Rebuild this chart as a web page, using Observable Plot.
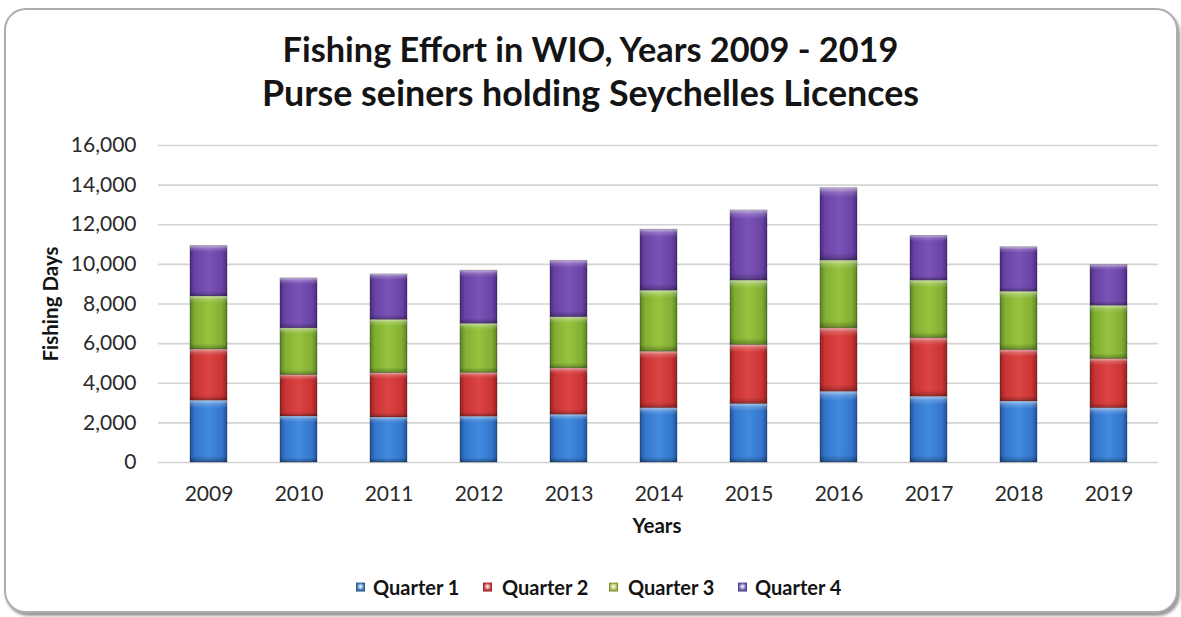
<!DOCTYPE html>
<html>
<head>
<meta charset="utf-8">
<script src="https://cdn.jsdelivr.net/npm/d3@7"></script>
<script src="https://cdn.jsdelivr.net/npm/@observablehq/plot@0.6"></script>
<style>
  body { margin: 0; background: #fff; font-family: Lato, "Open Sans", sans-serif; }
  #wrap { position: relative; width: 1181px; height: 617px; overflow: hidden; background: #fff; }
  #frame { position: absolute; left: 4px; top: 8px; width: 1170px; height: 601px;
           border: 2px solid #adadad; border-radius: 22px; background: #fff;
           box-shadow: 2px 3px 3px rgba(0,0,0,0.4); }
  .title { position: absolute; left: 0; width: 1181px; text-align: center; font-weight: 700;
           line-height: 1; color: #141414; white-space: nowrap; }
  #chart { position: absolute; left: 0; top: 130px; }
  .axtitle { position: absolute; font-weight: 700; font-size: 20.5px; color: #141414; white-space: nowrap; line-height: 1; }
  .leg { position: absolute; top: 587px; transform: translateY(-50%); font-weight: 700; font-size: 20px; color: #141414; white-space: nowrap; line-height: 1; }
  .sw { position: absolute; top: 587px; width: 9px; height: 9px; transform: translateY(-50%);
        box-shadow: inset 0 0 0 1px rgba(0,0,0,0.25); }
</style>
</head>
<body>
<div id="wrap">
  <div id="frame"></div>
  <div class="title" style="top:32px; font-size:34.3px">Fishing Effort in WIO, Years 2009 - 2019</div>
  <div class="title" style="top:75px; font-size:35.8px">Purse seiners holding Seychelles Licences</div>
  <div id="chart"></div>
  <div class="axtitle" style="left:50px; top:304px; transform: translate(-50%,-50%) rotate(-90deg);">Fishing Days</div>
  <div class="axtitle" style="left:657px; top:525px; transform: translate(-50%,-50%);">Years</div>
  <div id="legend"></div>
</div>
<script>
// ---- data ----
const years = ["2009","2010","2011","2012","2013","2014","2015","2016","2017","2018","2019"];
const quarters = ["Quarter 1","Quarter 2","Quarter 3","Quarter 4"];
const q1 = [3120, 2320, 2270, 2310, 2410, 2740, 2950, 3570, 3320, 3080, 2740];
const q2 = [2580, 2090, 2240, 2210, 2340, 2850, 2980, 3200, 2950, 2590, 2480];
const q3 = [2680, 2360, 2690, 2480, 2580, 3080, 3250, 3420, 2910, 2950, 2690];
const q4 = [2540, 2520, 2290, 2680, 2850, 3080, 3540, 3650, 2260, 2240, 2050];
const yTicks = [0, 2000, 4000, 6000, 8000, 10000, 12000, 14000, 16000];

const series = [q1, q2, q3, q4];
const rows = [];
years.forEach((yr, i) => quarters.forEach((q, j) => rows.push({year: yr, quarter: q, value: series[j][i]})));

// gradient styling
const grads = [
  {id: "gQ1", stops: ["#21539c", "#3477cc", "#418ade", "#3477cc", "#21539c"], legend: "#3d74ba"},
  {id: "gQ2", stops: ["#9a2222", "#c93434", "#dc4444", "#c93434", "#9a2222"], legend: "#c53a3e"},
  {id: "gQ3", stops: ["#5a8520", "#82ae33", "#96c43e", "#82ae33", "#5a8520"], legend: "#a7b843"},
  {id: "gQ4", stops: ["#4c2c82", "#6a44a5", "#7b53b7", "#6a44a5", "#4c2c82"], legend: "#6a5ab0"}
];

const chart = Plot.plot({
  width: 1181,
  height: 412,
  marginLeft: 158,
  marginRight: 23,
  marginTop: 15,
  marginBottom: 80,
  style: {fontFamily: "Lato, 'Open Sans', sans-serif", fontSize: "21px", color: "#2a2a2a", background: "transparent", overflow: "visible"},
  x: {domain: years, paddingInner: 0.59, paddingOuter: 0.295, label: null, tickSize: 0, tickPadding: 24},
  y: {domain: [0, 16000], ticks: yTicks, tickFormat: d3.format(","), label: null, tickSize: 0, tickPadding: 22},
  color: {domain: quarters, range: grads.map(g => `url(#${g.id})`)},
  marks: [
    Plot.ruleY(yTicks, {stroke: "#d3d3d3", strokeWidth: 1.6}),
    Plot.barY(rows, Plot.stackY({x: "year", y: "value", fill: "quarter", stroke: "rgba(0,0,0,0.35)", strokeWidth: 0.8})),
    Plot.barY(rows, Plot.stackY({x: "year", y: "value", z: "quarter", fill: "url(#bevel)"}))
  ]
});

const defs = d3.select(chart).insert("defs", ":first-child");
grads.forEach(g => {
  const lg = defs.append("linearGradient").attr("id", g.id).attr("x1", 0).attr("x2", 1).attr("y1", 0).attr("y2", 0);
  [0, 0.14, 0.5, 0.86, 1].forEach((o, k) => lg.append("stop").attr("offset", o).attr("stop-color", g.stops[k]));
});
const bv = defs.append("linearGradient").attr("id", "bevel").attr("x1", 0).attr("x2", 0).attr("y1", 0).attr("y2", 1);
[[0, "#fff", 0.55], [0.06, "#fff", 0.18], [0.13, "#fff", 0], [0.9, "#000", 0], [1, "#000", 0.3]]
  .forEach(([o, c, a]) => bv.append("stop").attr("offset", o).attr("stop-color", c).attr("stop-opacity", a));

document.getElementById("chart").appendChild(chart);

// legend
const legPos = [[356, 373], [483, 502], [609, 628], [738, 755]];
const leg = document.getElementById("legend");
quarters.forEach((q, i) => {
  const sw = document.createElement("div");
  sw.className = "sw";
  sw.style.left = legPos[i][0] + "px";
  sw.style.background = `radial-gradient(circle at 50% 45%, #ffffffaa 0%, ${grads[i].legend} 55%, ${grads[i].legend} 100%)`;
  leg.appendChild(sw);
  const t = document.createElement("div");
  t.className = "leg";
  t.style.left = legPos[i][1] + "px";
  t.textContent = q;
  leg.appendChild(t);
});
</script>
</body>
</html>
